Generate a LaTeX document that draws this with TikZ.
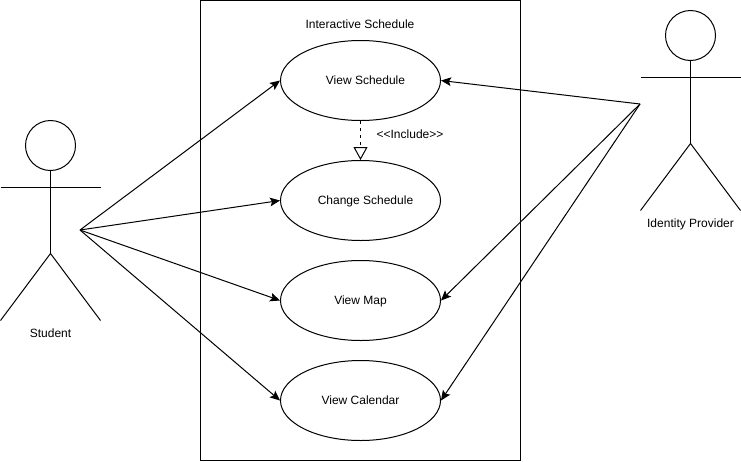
\documentclass[tikz,border=0pt]{standalone}
\usepackage{fontspec}
\setmainfont{Liberation Sans}
\usetikzlibrary{arrows.meta, shapes.geometric}

\begin{document}
\begin{tikzpicture}[x=0.75pt,y=-0.75pt,line width=0.75pt,font=\fontsize{9}{11}\selectfont]
       \tikzstyle{arrow} = [-{Stealth[length=7.5pt,width=6.5pt,inset=1.5pt]}]
       \tikzstyle{include} = [dash pattern=on 2.6pt off 2.6pt,-{Triangle[open,length=9.75pt,width=10.5pt,fill=white]}]
       \tikzstyle{usecase} = [ellipse,minimum width=120pt,minimum height=60pt,inner sep=0pt,draw=black,fill=white,text height=6.5pt,text depth=0pt]
       \tikzstyle{head} = [circle,minimum size=37.5pt,inner sep=0pt,draw=black]
       \tikzstyle{caption} = [inner sep=0pt,text height=6.5pt,text depth=0pt]
       \useasboundingbox (0,0) rectangle (741,461);
       \node (system) [draw=black,minimum width=240pt,minimum height=345pt,inner sep=0pt] at (360.5,230.5) {};
       \node (system-title) [caption] at (360,24.5) {Interactive Schedule};

       \node (schedule) [usecase] at (360.5,80.5) {\hspace{7.5pt}View Schedule};
       \node (change) [usecase] at (360.5,200.5) {\hspace{7.5pt}Change Schedule};
       \node (map) [usecase] at (360.5,300.5) {View Map};
       \node (calendar) [usecase] at (360.5,400.5) {View Calendar};

       \foreach \name/\i/\j in {student/50.5/145.5,provider/690.5/35.5}
       {
          \node (head-\name) [head] at (\i,\j) {};
          \coordinate (hip-\name) at (\i,\j+108);
          \coordinate (arm-l-\name) at (\i-50,\j+42);
          \coordinate (arm-r-\name) at (\i+50,\j+42);
          \coordinate (leg-l-\name) at (\i-50,\j+175);
          \coordinate (leg-r-\name) at (\i+50,\j+175);
          \draw (head-\name) -- (hip-\name);
          \draw (arm-l-\name) -- (arm-r-\name);
          \draw (leg-l-\name) -- (hip-\name) -- (leg-r-\name);
       }
       \node (student-label) [caption] at (50.5,333.5) {Student};
       \node (provider-label) [caption] at (690.5,223.5) {Identity Provider};

       \coordinate (student) at (80,230);
       \coordinate (provider) at (640,104);
       \foreach \i in {schedule,change,map,calendar}
          \draw [arrow] (student) -- (\i.west);
       \foreach \i in {schedule,map,calendar}
          \draw [arrow] (provider) -- (\i.east);

       \draw [include] (schedule) -- (change);
       \node (include-label) [caption] at (410,134.5) {<{}<Include>{}>};
\end{tikzpicture}
\end{document}
